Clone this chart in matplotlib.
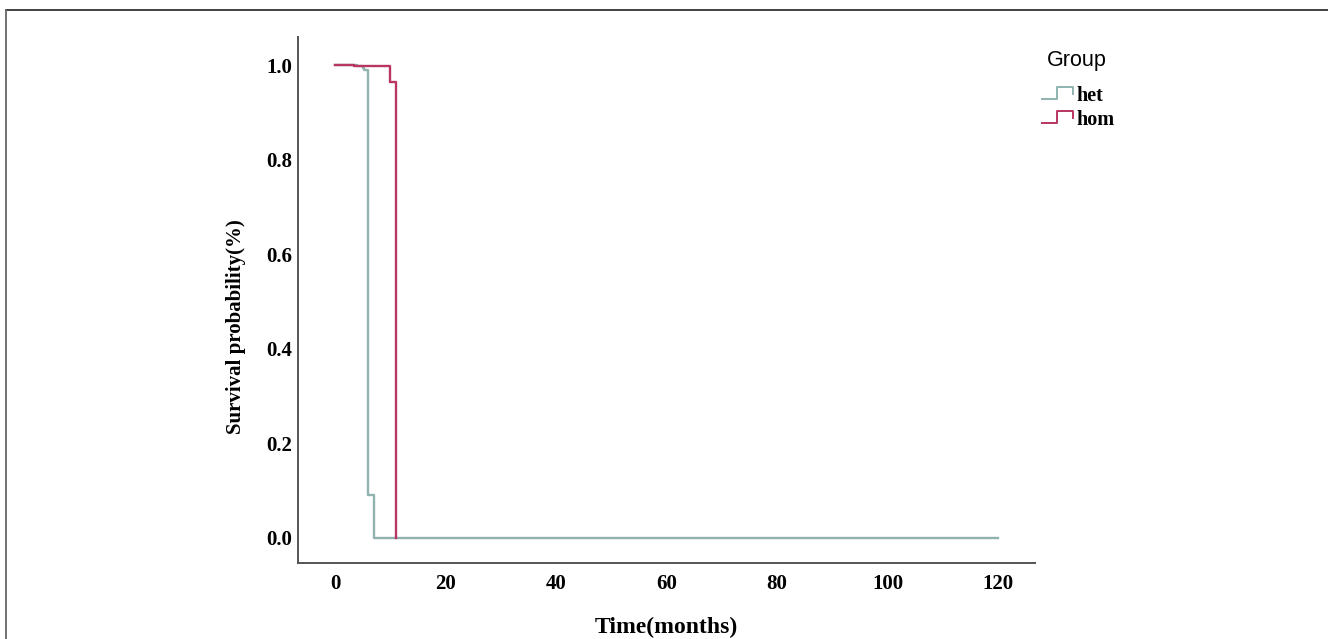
#!/usr/bin/env python3
"""Kaplan-Meier style survival curves, het vs hom."""
import matplotlib
matplotlib.use("Agg")
import matplotlib.pyplot as plt
from matplotlib.lines import Line2D
from matplotlib.legend_handler import HandlerBase

# step data (time in months, survival probability)
het_time = [0, 4.0, 5.0, 5.3, 6.0, 7.0, 120]
het_surv = [1.0, 0.997, 0.993, 0.989, 0.09, 0.0, 0.0]
hom_time = [0, 3.5, 10.0, 11.0]
hom_surv = [1.0, 0.997, 0.965, 0.0]

groups = ["het", "hom"]
colors = {"het": "#91b3b0", "hom": "#b8365f"}
x_ticks = [0, 20, 40, 60, 80, 100, 120]
y_ticks = [0.0, 0.2, 0.4, 0.6, 0.8, 1.0]

SERIF = "Liberation Serif"


class StepHandler(HandlerBase):
    def create_artists(self, legend, orig, xd, yd, w, h, fontsize, trans):
        xs = [xd, xd + w * 0.5, xd + w * 0.5, xd + w, xd + w]
        ys = [yd + h * 0.15, yd + h * 0.15, yd + h * 0.95, yd + h * 0.95, yd + h * 0.45]
        ln = Line2D(xs, ys, color=orig.get_color(), lw=1.4, transform=trans)
        return [ln]


def main():
    fig = plt.figure(figsize=(13.28, 6.39), dpi=100)
    ax = fig.add_axes([0.2244, 0.1189, 0.555, 0.823])

    ax.step(het_time, het_surv, where="post", color=colors["het"], lw=1.7)
    ax.step(hom_time, hom_surv, where="post", color=colors["hom"], lw=1.7)

    ax.set_xlim(-6.7, 126.7)
    ax.set_ylim(-0.053, 1.059)
    ax.set_xticks(x_ticks)
    ax.set_yticks(y_ticks)
    ax.set_xticklabels([str(t) for t in x_ticks], family=SERIF, weight="bold", fontsize=15)
    ax.set_yticklabels([f"{t:.1f}" for t in y_ticks], family=SERIF, weight="bold", fontsize=15)
    ax.tick_params(axis="x", length=0, pad=8)
    ax.tick_params(axis="y", length=0, pad=4)

    for s in ["top", "right"]:
        ax.spines[s].set_visible(False)
    for s in ["left", "bottom"]:
        ax.spines[s].set_color("#555555")
        ax.spines[s].set_linewidth(1.4)

    ax.set_xlabel("Time(months)", family=SERIF, weight="bold", fontsize=17)
    ax.set_ylabel("Survival probability(%)", family=SERIF, weight="bold", fontsize=15)
    ax.xaxis.set_label_coords(0.5, -0.122)
    ax.yaxis.set_label_coords(-0.084, 0.449)
    ax.xaxis.label.set_va("center")
    ax.yaxis.label.set_va("center")

    # legend: title as separate text, entries with step-shaped handles
    fig.text(0.7885, 0.906, "Group", family="Liberation Sans", fontsize=15.5,
             ha="left", va="center")
    handles = [Line2D([], [], color=colors[g]) for g in groups]
    fig.legend(handles, groups, loc="upper left", bbox_to_anchor=(0.7845, 0.866),
               frameon=False, handler_map={Line2D: StepHandler()},
               prop={"family": SERIF, "weight": "bold", "size": 14.5},
               handlelength=1.55, handletextpad=0.15, labelspacing=0.2,
               borderaxespad=0, borderpad=0)

    # thin frame on top and left of the figure
    fig.add_artist(Line2D([0.0045, 1.0], [0.985, 0.985], transform=fig.transFigure,
                          color="#333333", lw=1.3))
    fig.add_artist(Line2D([0.0045, 0.0045], [0.0, 0.985], transform=fig.transFigure,
                          color="#666666", lw=1.3))

    fig.savefig("out.png", dpi=100)
    plt.close(fig)


if __name__ == "__main__":
    main()
